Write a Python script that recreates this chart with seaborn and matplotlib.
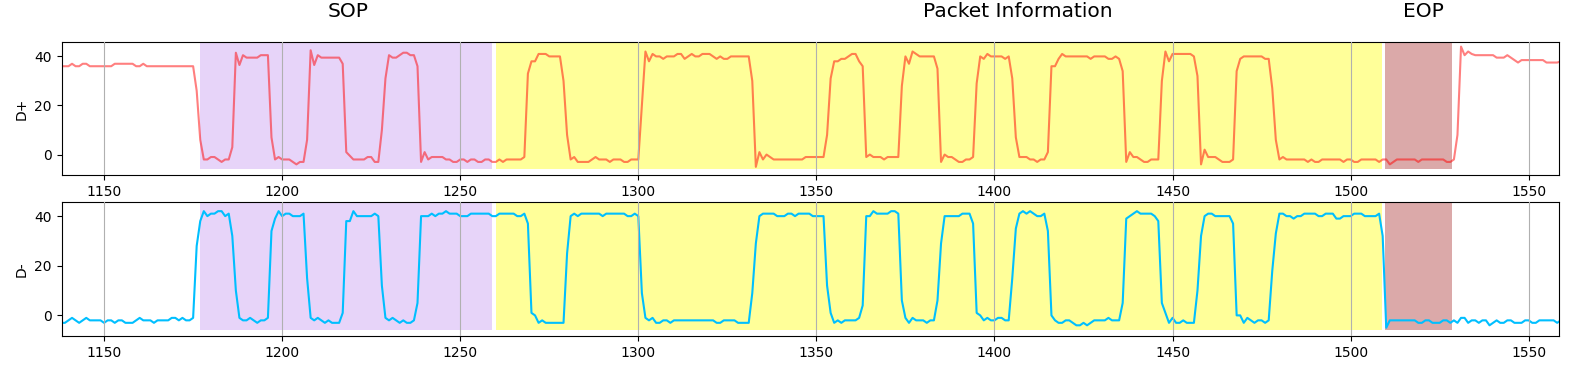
import numpy as np
import pandas as pd
import matplotlib
matplotlib.use("Agg")
import matplotlib.pyplot as plt
import matplotlib.transforms as mtransforms
import seaborn as sns

# ---- data -------------------------------------------------------------
x_start, x_end = 1138, 1559
sample_x = list(range(x_start, x_end + 1))

d_plus = [
    36, 36,                                              # 1138
    36, 37, 36, 36, 37, 37, 36, 36, 36, 36,              # 1140
    36, 36, 36, 37, 37, 37, 37, 37, 37, 36,              # 1150
    36, 37, 36, 36, 36, 36, 36, 36, 36, 36,              # 1160
    36, 36, 36, 36, 36, 36, 26, 6, -2, -2,               # 1170
    -1, -1, -2, -3, -2, -2, 3, 41.5, 36.5, 40.5,         # 1180
    39.5, 39.5, 39.5, 39.5, 40.5, 40.5, 40.5, 7, -2, -1, # 1190
    -2, -2, -2, -3, -4, -3, -3, 6, 42.5, 36.5,           # 1200
    40.5, 39.5, 39.5, 39.5, 39.5, 39.5, 39.5, 37, 1, -0.5,  # 1210
    -2, -2, -2, -2, -1, -1, -3, -3, 10, 31,              # 1220
    40.5, 39.5, 39.5, 40.5, 41.5, 41.5, 40.5, 40.5, 36, -3,  # 1230
    1, -2, -1, -1, -1, -1, -2, -2, -3, -3,               # 1240
    -2, -2, -3, -2, -2, -3, -3, -2, -2, -3,              # 1250
    -3, -2, -3, -2, -2, -2, -2, -2, -1, 33,              # 1260
    38, 38, 41, 41, 41, 40, 40, 40, 40, 30,              # 1270
    8, -2, -1, -3, -3, -3, -3, -2, -1, -2,               # 1280
    -2, -2, -3, -2, -2, -2, -3, -3, -2, -2,              # 1290
    -2, 20, 42, 38, 41, 40, 40, 39, 40, 40,              # 1300
    40, 41, 41, 39, 40, 41, 40, 40, 41, 41,              # 1310
    41, 40, 39, 40, 39, 39, 40, 40, 40, 40,              # 1320
    40, 40, 30, -5, 1, -2, 0, -1, -2, -2,                # 1330
    -2, -2, -2, -2, -2, -2, -2, -1, -1, -1,              # 1340
    -1, -1, -1, 8, 31, 38, 38, 39, 39, 40,               # 1350
    41, 41, 38, 36, -1, 0, -1, -1, -1, -2,               # 1360
    -1, -1, -1, -1, 28, 40, 37, 42, 41, 40,              # 1370
    40, 40, 40, 40, 35, -3, 0, -1, -1, -2,               # 1380
    -3, -3, -2, -2, -1, 29, 40, 39, 41, 40,              # 1390
    40, 40, 40, 39, 40, 31, 7, -1, -1, -1,               # 1400
    -2, -2, -3, -2, -2, 1, 36, 36, 39, 41,               # 1410
    40, 40, 40, 40, 40, 40, 40, 39, 40, 40,              # 1420
    40, 40, 39, 39, 40, 39, 34, -3, 1, -1,               # 1430
    -1, -2, -3, -3, -2, -2, -2, 30, 42, 38,              # 1440
    41, 41, 41, 41, 41, 41, 40, 32, -4, 2,               # 1450
    -1, -1, -1, -2, -3, -3, -3, -2, 34, 39,              # 1460
    40, 40, 40, 40, 40, 40, 39, 39, 27, 6,               # 1470
    -2, -1, -2, -2, -2, -2, -2, -2, -3, -2,              # 1480
    -3, -3, -2, -2, -2, -2, -2, -2, -3, -2,              # 1490
    -2, -3, -3, -2, -2, -2, -2, -2, -3, -2,              # 1500
    -2, -4, -3, -2, -2, -2, -2, -2, -2, -3,              # 1510
    -2, -2, -2, -2, -2, -2, -2, -3, -3, -2,              # 1520
    8, 44, 40.5, 42, 41, 40.5, 40.5, 40.5, 40.5, 40.5,   # 1530
    40.5, 39.5, 39.5, 39.5, 40.5, 39.5, 38.5, 37.5, 38.5, 38.5,  # 1540
    38.5, 38.5, 38.5, 38.5, 38.5, 37.5, 37.5, 37.5, 37.5, 38,    # 1550
]

d_minus = [
    -3, -3,                                              # 1138
    -2, -1, -2, -3, -2, -1, -2, -2, -2, -2,              # 1140
    -3, -2, -2, -3, -2, -2, -3, -3, -3, -2,              # 1150
    -1, -2, -2, -2, -3, -2, -2, -2, -2, -1,              # 1160
    -1, -2, -1, -2, -2, -1, 28, 38, 42, 40,              # 1170
    41, 41, 42, 42, 40, 41, 32, 10, -1, -2,              # 1180
    -2, -1, -2, -3, -2, -2, -1, 34, 39, 42,              # 1190
    40, 41, 41, 40, 40, 40, 41, 15, -1, -2,              # 1200
    -1, -2, -3, -2, -3, -3, -3, 1, 38, 38,               # 1210
    42, 40, 40, 40, 40, 40, 41, 40, 12, -1,              # 1220
    -2, -1, -2, -3, -2, -3, -3, -2, 5, 40,               # 1230
    40, 40, 41, 40, 41, 41, 42, 41, 41, 41,              # 1240
    40, 40, 40, 41, 41, 41, 41, 41, 41, 40,              # 1250
    40, 41, 41, 41, 41, 41, 40, 40, 41, 37,              # 1260
    1, 0, -3, -2, -3, -3, -3, -3, -3, -3,                # 1270
    25, 40, 41, 40, 41, 41, 41, 41, 41, 41,              # 1280
    40, 41, 41, 41, 41, 41, 41, 40, 40, 41,              # 1290
    40, 9, -1, -2, -1, -3, -3, -2, -2, -3,               # 1300
    -2, -2, -2, -2, -2, -2, -2, -2, -2, -2,              # 1310
    -2, -2, -3, -3, -2, -2, -2, -2, -3, -3,              # 1320
    -3, -3, 9, 29, 40, 41, 41, 41, 41, 40,               # 1330
    40, 40, 41, 41, 40, 41, 41, 41, 41, 40,              # 1340
    40, 40, 40, 12, 1, -3, -2, -3, -2, -2,               # 1350
    -2, -2, -1, 4, 40, 40, 42, 41, 41, 41,               # 1360
    41, 42, 42, 41, 6, -1, -3, -1, -2, -2,               # 1370
    -2, -3, -2, -2, 6, 29, 40, 40, 40, 40,               # 1380
    40, 41, 41, 41, 37, 1, 0, -2, -1, -2,                # 1390
    -2, -1, -1, -2, -2, 15, 35, 41, 42, 41,              # 1400
    42, 41, 40, 40, 41, 34, 0, -2, -3, -3,               # 1410
    -2, -2, -3, -4, -4, -3, -4, -3, -2, -2,              # 1420
    -2, -2, -1, -2, -2, -2, 5, 39, 40, 41,               # 1430
    42, 41, 41, 41, 41, 40, 38, 5, 1, -3,                # 1440
    -1, -3, -3, -2, -3, -3, -3, 10, 32, 40,              # 1450
    41, 41, 40, 40, 40, 40, 40, 37, 0, 0,                # 1460
    -3, -1, -2, -3, -2, -2, -3, -2, 18, 33,              # 1470
    41, 41, 40, 40, 39, 40, 40, 41, 41, 41,              # 1480
    41, 40, 40, 41, 41, 41, 39, 39, 40, 40,              # 1490
    40, 41, 41, 41, 40, 40, 40, 40, 41, 32,              # 1500
    -5, -2, -2, -2, -2, -2, -2, -2, -2, -3,              # 1510
    -3, -2, -2, -3, -3, -3, -2, -2, -3, -2,              # 1520
    -3, -1, -1, -3, -2, -2, -3, -2, -2, -4,              # 1530
    -3, -2, -3, -3, -2, -2, -3, -3, -3, -2,              # 1540
    -2, -3, -3, -2, -2, -2, -2, -2, -3, -2,              # 1550
]

section_names = ["SOP", "Packet Information", "EOP"]
section_start = [1176.9, 1260.0, 1509.6]
section_end = [1258.8, 1508.7, 1528.6]
section_label_x = [1218.6, 1406.5, 1520.5]

assert len(d_plus) == len(sample_x) == len(d_minus)

df = pd.DataFrame({"x": sample_x, "D+": d_plus, "D-": d_minus})

# ---- styling ----------------------------------------------------------
plt.rcParams["font.family"] = ["DejaVu Sans"]
section_colors = ["blueviolet", "yellow", "brown"]
section_alpha = [0.2, 0.4, 0.4]

fig, axes = plt.subplots(2, 1, figsize=(15.7, 3.65), dpi=100)
fig.subplots_adjust(left=0.0393, right=0.9932, top=0.8858, bottom=0.0795,
                    hspace=0.2045)

ylims = [(-8.4, 46.0), (-8.3, 45.5)]
series = [("D+", "red", 0.5), ("D-", "deepskyblue", 1.0)]

for ax, (name, color, alpha), ylim in zip(axes, series, ylims):
    for s, e, c, a in zip(section_start, section_end, section_colors, section_alpha):
        ax.axvspan(s, e, ymin=0.045, ymax=0.993, color=c, alpha=a, lw=0)
    sns.lineplot(data=df, x="x", y=name, ax=ax, color=color, alpha=alpha,
                 linewidth=1.5)
    ax.set_xlim(1138.1, 1558.6)
    ax.set_ylim(*ylim)
    ax.set_yticks([0, 20, 40])
    ax.set_xlabel("")
    ax.set_ylabel(name)
    ax.grid(axis="x", color="#b0b0b0", linewidth=0.8)
    ax.set_axisbelow(False)

trans = mtransforms.blended_transform_factory(axes[0].transData, axes[0].transAxes)
for name, lx in zip(section_names, section_label_x):
    axes[0].text(lx, 1.183, name, transform=trans, ha="center", va="baseline",
                 fontsize=14.5)

fig.savefig("out.png", dpi=100)
